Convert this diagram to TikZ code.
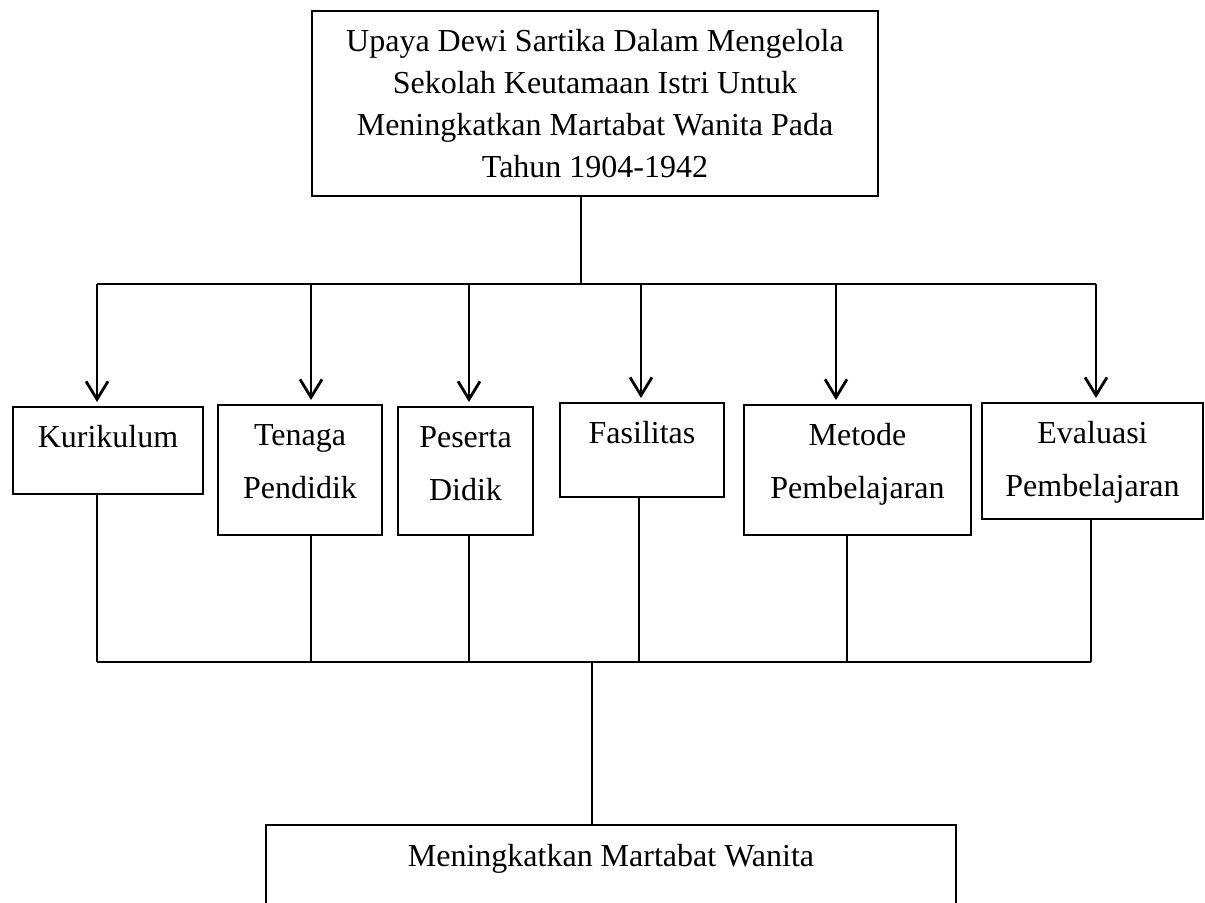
\documentclass[tikz,border=0pt]{standalone}
\usepackage{fontspec}
\setmainfont{Liberation Serif}
\usetikzlibrary{arrows.meta}

% isi kotak: lebar, tinggi, teks (rata atas)
\newcommand{\isi}[3]{\parbox[t][#2][t]{#1}{\centering\rule{0pt}{20.5pt}#3}}

\begin{document}
\begin{tikzpicture}[x=0.5pt,y=-0.5pt,line width=1pt,
  kotak/.style={draw,inner sep=0pt,anchor=north west,
    font=\fontsize{16}{26.5}\selectfont},
  panah/.style={line width=1.4pt,-{Straight Barb[length=9pt,width=11pt]},
    shorten >=2pt}]

\useasboundingbox (0,0) rectangle (1205,903);
\clip (0,0) rectangle (1205,903);

% judul
\node[kotak,font=\fontsize{16}{21}\selectfont] (judul) at (311,10)
  {\isi{283pt}{92.5pt}{Upaya Dewi Sartika Dalam Mengelola\\
   Sekolah Keutamaan Istri Untuk\\
   Meningkatkan Martabat Wanita Pada\\
   Tahun 1904-1942}};

% komponen
\node[kotak] (kur) at (12,406) {\isi{95pt}{43.5pt}{Kurikulum}};
\node[kotak] (tenaga) at (217,404) {\isi{82pt}{65pt}{Tenaga\\Pendidik}};
\node[kotak] (peserta) at (397,406) {\isi{67.5pt}{64pt}{Peserta\\Didik}};
\node[kotak] (fasilitas) at (559,402) {\isi{82pt}{47pt}{Fasilitas}};
\node[kotak] (metode) at (743,404) {\isi{113.5pt}{65pt}{Metode\\Pembelajaran}};
\node[kotak] (evaluasi) at (981,402) {\isi{110.5pt}{58pt}{Evaluasi\\Pembelajaran}};

% hasil
\node[kotak] (hasil) at (265,824) {\isi{345pt}{60pt}{Meningkatkan Martabat Wanita}};

% cabang atas
\coordinate (cabang) at (581,284);
\foreach \x/\n in {97/kur,311/tenaga,469/peserta,641/fasilitas,836/metode,1096/evaluasi}{
  \coordinate (a\n) at (\x,284);
  \draw[panah] (a\n) -- (a\n |- \n.north);
}
\draw (judul.south -| cabang) -- (cabang);
\draw (akur) -- (aevaluasi);

% cabang bawah
\coordinate (gabung) at (591.5,662);
\foreach \x/\n in {97/kur,311/tenaga,469/peserta,639/fasilitas,847/metode,1091/evaluasi}{
  \coordinate (b\n) at (\x,662);
  \draw (b\n |- \n.south) -- (b\n);
}
\draw (bkur) -- (bevaluasi);
\draw (gabung) -- (gabung |- hasil.north);

\end{tikzpicture}
\end{document}
